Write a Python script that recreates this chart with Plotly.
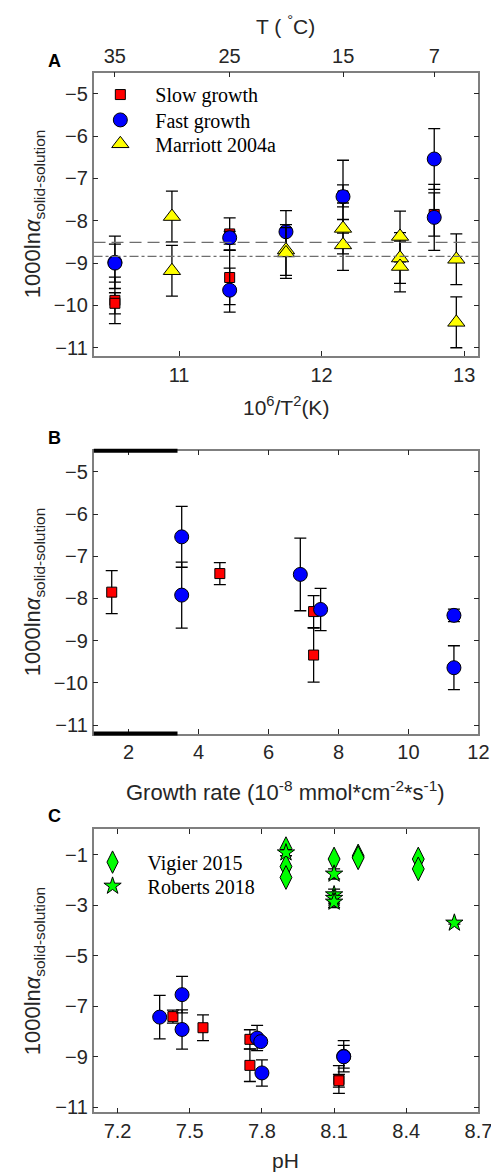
import plotly.graph_objects as go

# ---------------- Panel A data (x = 10^6/T^2) ----------------
a_slow_x = [10.55, 10.55, 11.355, 11.355, 12.15, 12.79]
a_slow_y = [-9.88, -9.95, -8.31, -9.34, -7.41, -7.85]
a_slow_e = [0.55, 0.25, 0.38, 0.64, 0.26, 0.51]

a_fast_x = [10.55, 10.55, 11.355, 11.355, 11.75, 12.15, 12.79, 12.79]
a_fast_y = [-8.98, -9.00, -8.40, -9.64, -8.26, -7.43, -6.54, -7.92]
a_fast_e = [0.62, 0.45, 0.15, 0.52, 0.50, 0.86, 0.72, 0.78]

a_mar_x = [10.95, 10.95, 11.75, 11.75, 12.15, 12.15, 12.55, 12.55, 12.55, 12.945, 12.945]
a_mar_y = [-7.90, -9.18, -8.69, -8.76, -8.18, -8.57, -8.37, -8.88, -9.08, -8.91, -10.40]
a_mar_e = [0.6, 0.6, 0.6, 0.6, 0.6, 0.6, 0.6, 0.6, 0.6, 0.6, 0.6]

a_mean_dash = -8.51
a_mean_dashdot = -8.84

top_T_vals = [10.549, 11.354, 12.151, 12.79]
top_T_text = ["35", "25", "15", "7"]

# ---------------- Panel B data (growth rate) ----------------
b_slow_x = [1.52, 4.61, 7.29, 7.29]
b_slow_y = [-7.85, -7.41, -8.31, -9.34]
b_slow_e = [0.51, 0.26, 0.38, 0.64]

b_fast_x = [3.52, 3.52, 6.91, 7.49, 11.30, 11.30]
b_fast_y = [-6.54, -7.92, -7.43, -8.26, -8.40, -9.64]
b_fast_e = [0.72, 0.78, 0.86, 0.50, 0.15, 0.52]

b_band_x = [1.0, 3.4]

# ---------------- Panel C data (pH) ----------------
c_slow_x = [7.43, 7.555, 7.75, 7.75, 8.12, 8.12]
c_slow_y = [-7.41, -7.85, -8.31, -9.34, -9.90, -9.95]
c_slow_e = [0.26, 0.51, 0.38, 0.64, 0.55, 0.25]

c_fast_x = [7.375, 7.468, 7.468, 7.78, 7.795, 7.80, 8.14, 8.14]
c_fast_y = [-7.43, -6.54, -7.92, -8.26, -8.40, -9.64, -8.98, -9.00]
c_fast_e = [0.86, 0.72, 0.78, 0.50, 0.15, 0.52, 0.62, 0.45]

c_vig_x = [7.9, 7.9, 7.9, 8.1, 8.2, 8.2, 8.45, 8.45]
c_vig_y = [-0.76, -1.47, -1.90, -1.17, -1.05, -1.12, -1.17, -1.56]

c_rob_x = [7.9, 8.1, 8.1, 8.1, 8.1, 8.6]
c_rob_y = [-0.92, -1.76, -2.58, -2.72, -2.87, -3.70]
c_rob_e = [0.12, 0.2, 0.22, 0.2, 0.22, 0.05]

# ---------------- styling ----------------
W, H = 499, 1175
def px(x):
    return x / W
def py(y):
    return 1 - y / H

AX_COL = "#7f7f7f"
TXT_COL = "#262626"
SANS = "Liberation Sans, Arial, sans-serif"
TICK_FONT = dict(family=SANS, size=20, color=TXT_COL)
SERIF = "Liberation Serif, Times New Roman, serif"
NB = "\u00a0\u00a0\u00a0"

RED = dict(symbol="square", size=10, color="#ff0000", line=dict(color="black", width=1))
BLUE = dict(symbol="circle", size=14, color="#0000ff", line=dict(color="black", width=1))
YEL = dict(symbol="triangle-up", size=15, color="#ffff00", line=dict(color="black", width=1))
GRN_D = dict(symbol="diamond-tall", size=17, color="#00ff00", line=dict(color="black", width=1))
GRN_S = dict(symbol="star", size=13, color="#00ff00", line=dict(color="black", width=1))

def err(arr):
    return dict(type="data", array=arr, visible=True, color="black", thickness=1.3, width=6)

fig = go.Figure()

# Panel A
fig.add_trace(go.Scatter(x=a_slow_x, y=a_slow_y, error_y=err(a_slow_e), mode="markers",
                         marker=RED, name=NB + "Slow growth", xaxis="x", yaxis="y", legend="legend"))
fig.add_trace(go.Scatter(x=a_fast_x, y=a_fast_y, error_y=err(a_fast_e), mode="markers",
                         marker=BLUE, name=NB + "Fast growth", xaxis="x", yaxis="y", legend="legend2"))
fig.add_trace(go.Scatter(x=a_mar_x, y=a_mar_y, error_y=err(a_mar_e), mode="markers",
                         marker=YEL, name=NB + "Marriott 2004a", xaxis="x", yaxis="y", legend="legend3"))
# trace bound to the top temperature axis so it renders
fig.add_trace(go.Scatter(x=top_T_vals, y=[None] * len(top_T_vals), mode="markers",
                         xaxis="x4", yaxis="y", showlegend=False, hoverinfo="skip"))

# Panel B
fig.add_trace(go.Scatter(x=b_slow_x, y=b_slow_y, error_y=err(b_slow_e), mode="markers",
                         marker=RED, showlegend=False, xaxis="x2", yaxis="y2"))
fig.add_trace(go.Scatter(x=b_fast_x, y=b_fast_y, error_y=err(b_fast_e), mode="markers",
                         marker=BLUE, showlegend=False, xaxis="x2", yaxis="y2"))

# Panel C
fig.add_trace(go.Scatter(x=c_slow_x, y=c_slow_y, error_y=err(c_slow_e), mode="markers",
                         marker=RED, showlegend=False, xaxis="x3", yaxis="y3"))
fig.add_trace(go.Scatter(x=c_fast_x, y=c_fast_y, error_y=err(c_fast_e), mode="markers",
                         marker=BLUE, showlegend=False, xaxis="x3", yaxis="y3"))
fig.add_trace(go.Scatter(x=c_vig_x, y=c_vig_y, mode="markers", marker=GRN_D, name=NB + "Vigier 2015",
                         xaxis="x3", yaxis="y3", legend="legend4"))
fig.add_trace(go.Scatter(x=c_rob_x, y=c_rob_y, error_y=err(c_rob_e), mode="markers", marker=GRN_S,
                         name=NB + "Roberts 2018", xaxis="x3", yaxis="y3", legend="legend5"))

XDOM = [px(88), px(484)]
dA = [py(350), py(65)]
dB = [py(729.3), py(445)]
dC = [py(1110), py(825.7)]

common_ax = dict(showline=True, linecolor=AX_COL, linewidth=1.5, ticks="inside", ticklen=5,
                 tickcolor=TXT_COL, tickwidth=1, tickfont=TICK_FONT, showgrid=False, zeroline=False)

def leg(xp, yp):
    return dict(x=px(xp), y=py(yp), xanchor="left", yanchor="middle", bgcolor="rgba(0,0,0,0)",
                font=dict(family=SERIF, size=20, color="black"), itemwidth=30, tracegroupgap=0)

fig.update_layout(
    width=W, height=H, margin=dict(l=0, r=0, t=0, b=0),
    paper_bgcolor="white", plot_bgcolor="white",
    xaxis=dict(domain=XDOM, range=[10.4, 13.1], tickvals=[11, 12, 13], anchor="y", mirror=False, **common_ax),
    yaxis=dict(domain=dA, range=[-11.2, -4.5], tickvals=[-5, -6, -7, -8, -9, -10, -11], anchor="x",
               mirror="ticks", **common_ax),
    xaxis4=dict(overlaying="x", side="top", anchor="y", range=[10.4, 13.1], tickvals=top_T_vals,
                ticktext=top_T_text, **common_ax),
    xaxis2=dict(domain=XDOM, range=[1, 12], tickvals=[2, 4, 6, 8, 10, 12], anchor="y2", mirror="ticks", **common_ax),
    yaxis2=dict(domain=dB, range=[-11.2, -4.5], tickvals=[-5, -6, -7, -8, -9, -10, -11], anchor="x2",
                mirror="ticks", **common_ax),
    xaxis3=dict(domain=XDOM, range=[7.1, 8.7], tickvals=[7.2, 7.5, 7.8, 8.1, 8.4, 8.7],
                ticktext=["7.2", "7.5", "7.8", "8.1", "8.4", "8.7"], anchor="y3", mirror="ticks", **common_ax),
    yaxis3=dict(domain=dC, range=[-11.2, 0], tickvals=[-1, -3, -5, -7, -9, -11], anchor="x3",
                mirror="ticks", **common_ax),
    legend=leg(95, 87),
    legend2=leg(95, 112.5),
    legend3=leg(95, 136.5),
    legend4=leg(87, 858.5),
    legend5=leg(87, 882.5),
)

# Reference lines in panel A
fig.add_shape(type="line", xref="x domain", yref="y", x0=0, x1=1, y0=a_mean_dash, y1=a_mean_dash,
              line=dict(color="#6e6e6e", width=1.3, dash="12px,6px"))
fig.add_shape(type="line", xref="x domain", yref="y", x0=0, x1=1, y0=a_mean_dashdot, y1=a_mean_dashdot,
              line=dict(color="#6e6e6e", width=1.3, dash="dashdot"))

# Thick black segments on panel B borders
for yd in (0, 1):
    fig.add_shape(type="line", xref="x2", yref="y2 domain", x0=b_band_x[0], x1=b_band_x[1], y0=yd, y1=yd,
                  line=dict(color="black", width=4))

ann = []
def A(text, x, y, size=22, angle=0, bold=False, family=SANS, color=TXT_COL):
    ann.append(dict(text=("<b>%s</b>" % text) if bold else text, x=px(x), y=py(y), xref="paper", yref="paper",
                    showarrow=False, xanchor="center", yanchor="middle", textangle=angle,
                    font=dict(family=family, size=size, color=color)))

A("T ( <sup>°</sup>C)", 285, 17, size=21)
A("10<sup>6</sup>/T<sup>2</sup>(K)", 286, 400, size=21)
A("Growth rate (10<sup>-8</sup> mmol*cm<sup>-2</sup>*s<sup>-1</sup>)", 285, 787)
A("pH", 285, 1158, size=21)
ylab = "1000ln<i>α</i><sub>solid-solution</sub>"
A(ylab, 27, 207, angle=-90)
A(ylab, 27, 587, angle=-90)
A(ylab, 27, 968, angle=-90)
A("A", 48, 53, size=18, bold=True, color="black")
A("B", 48, 432, size=18, bold=True, color="black")
A("C", 48, 812, size=18, bold=True, color="black")
fig.update_layout(annotations=ann)

fig.write_html("out.html")
